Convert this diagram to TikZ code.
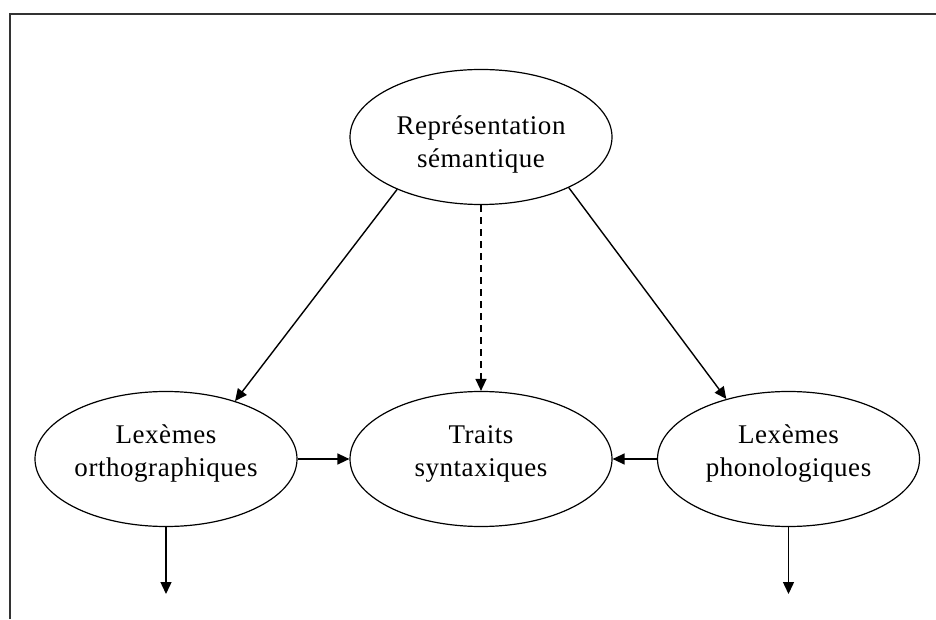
\documentclass[tikz,border=0pt]{standalone}
\usepackage{fontspec}
\setmainfont{Liberation Serif}[LetterSpace=2]
\usetikzlibrary{shapes.geometric,arrows.meta}
\begin{document}
\begin{tikzpicture}[x=1pt,y=1pt,
  ell/.style={draw, ellipse, line width=1.2pt, minimum width=262pt, minimum height=135pt, inner sep=0pt},
  txt/.style={align=center, inner sep=0pt, font=\fontsize{27}{33}\selectfont},
  conn/.style={line width=1.4pt, -{Triangle[length=12pt,width=11pt]}},
  frame/.style={line width=2pt, draw=black!80}]
\useasboundingbox (0,0) rectangle (936,619);
\coordinate (fbl) at (10,0);
\coordinate (ftl) at (10,605);
\coordinate (ftr) at (936,605);
\draw[frame] (fbl) -- (ftl) -- (ftr);
\node[ell] (top) at (481,482) {};
\node[ell] (left) at (166,160) {};
\node[ell] (mid) at (481,160) {};
\node[ell] (right) at (788.5,160) {};
\node[txt] (ttop) at ([yshift=-7pt]top.center) {Représentation\\sémantique};
\node[txt] (tleft) at ([yshift=5pt]left.center) {Lexèmes\\orthographiques};
\node[txt] (tmid) at ([yshift=5pt]mid.center) {Traits\\syntaxiques};
\node[txt] (tright) at ([yshift=5pt]right.center) {Lexèmes\\phonologiques};
\coordinate (ldown) at (166,25);
\coordinate (rdown) at (788.5,25);
\draw[conn] (top.212) -- (left.40);
\draw[conn] (top.330) -- (right.136);
\draw[conn, dash pattern=on 7pt off 5pt] (top.south) -- (mid.north);
\draw[conn] (left.east) -- (mid.west);
\draw[conn] (right.west) -- (mid.east);
\draw[conn] (left.south) -- (ldown);
\draw[conn] (right.south) -- (rdown);
\end{tikzpicture}
\end{document}
